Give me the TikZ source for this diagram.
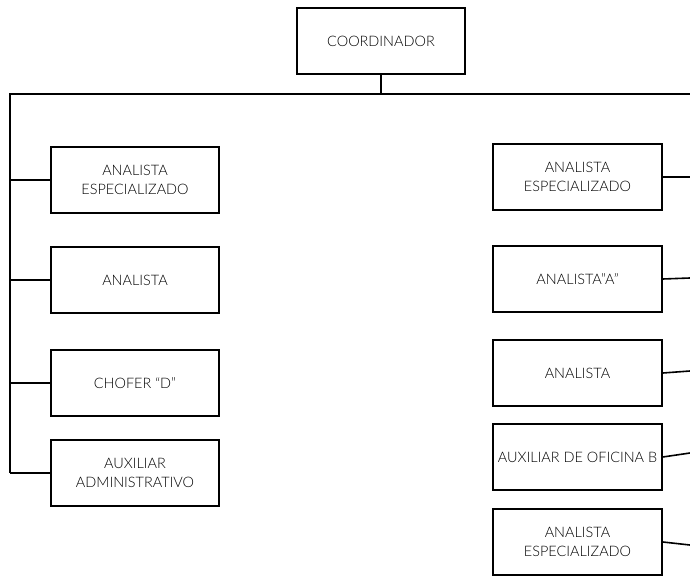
\documentclass[tikz,border=0pt]{standalone}
\usepackage{fontspec}
\setmainfont{Lato Light}
\begin{document}
\begin{tikzpicture}[x=1bp,y=-1bp,
  post/.style={draw=black,line width=1.6bp,minimum width=168bp,minimum height=66bp,
    inner sep=0pt,align=center,font=\fontsize{14.5}{19}\selectfont,text=black},
  link/.style={draw=black,line width=1.6bp}]
\useasboundingbox (0,0) rectangle (690,576);
% head of the unit
\node[post,minimum width=168bp] (coord) at (381,41) {COORDINADOR};
% left column
\node[post] (l1) at (135,180) {ANALISTA\\ESPECIALIZADO};
\node[post] (l2) at (135,280) {ANALISTA};
\node[post] (l3) at (135,383) {CHOFER ``D''};
\node[post] (l4) at (135,473) {AUXILIAR\\ADMINISTRATIVO};
% right column
\node[post,minimum width=169bp] (r1) at (577.5,177) {ANALISTA\\ESPECIALIZADO};
\node[post,minimum width=169bp] (r2) at (577.5,279) {ANALISTA''A''};
\node[post,minimum width=169bp] (r3) at (577.5,373) {ANALISTA};
\node[post,minimum width=169bp] (r4) at (577.5,457) {AUXILIAR DE OFICINA B};
\node[post,minimum width=169bp] (r5) at (577.5,542) {ANALISTA\\ESPECIALIZADO};
% trunk and branches
\coordinate (bus) at (381,94);
\coordinate (busL) at (10,94);
\coordinate (busR) at (690,94);
\coordinate (trunkL) at (10,473);
\draw[link] (coord.south) -- (bus);
\draw[link] (busR) -- (busL) -- (trunkL);
\foreach \n in {l1,l2,l3,l4}
  \draw[link] (\n.west) -- (\n.west -| busL);
\coordinate (e1) at (690,177);
\coordinate (e2) at (690,278);
\coordinate (e3) at (690,371);
\coordinate (e4) at (690,453);
\coordinate (e5) at (690,545);
\foreach \i in {1,...,5}
  \draw[link] (r\i.east) -- (e\i);
\end{tikzpicture}
\end{document}
